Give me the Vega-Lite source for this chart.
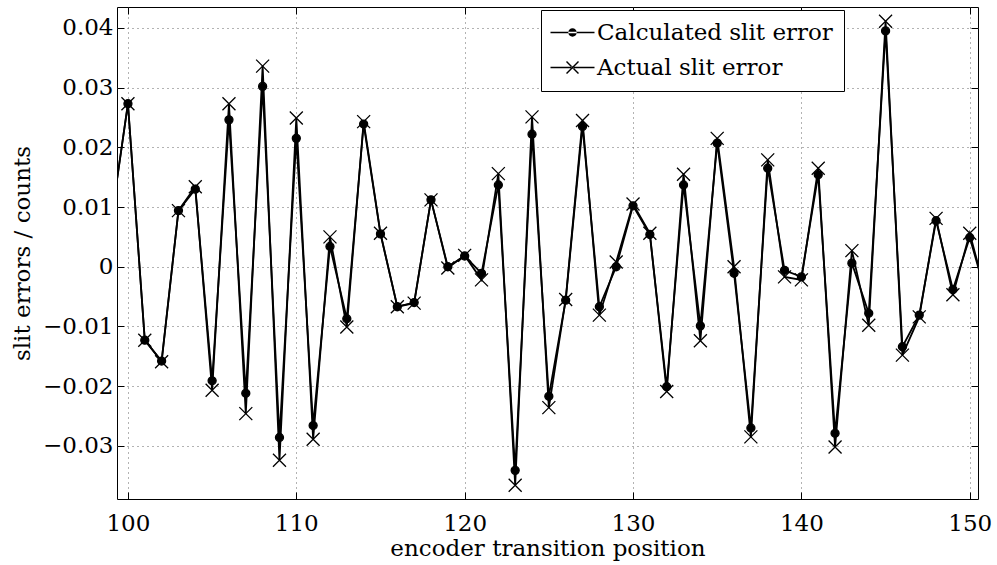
{
  "$schema": "https://vega.github.io/schema/vega-lite/v6.json",
  "width": 861,
  "height": 492,
  "autosize": {"type": "none"},
  "padding": {"left": 117, "top": 7, "right": 19, "bottom": 66},
  "background": "white",
  "config": {
    "view": {"stroke": "black", "strokeWidth": 1},
    "font": "DejaVu Serif"
  },
  "data": {
    "values": [
      {"x": 99, "series": "Calculated slit error", "v": 0.0077}, {"x": 99, "series": "Actual slit error", "v": 0.0077},
      {"x": 100, "series": "Calculated slit error", "v": 0.0273}, {"x": 100, "series": "Actual slit error", "v": 0.0273},
      {"x": 101, "series": "Calculated slit error", "v": -0.0123}, {"x": 101, "series": "Actual slit error", "v": -0.0123},
      {"x": 102, "series": "Calculated slit error", "v": -0.0158}, {"x": 102, "series": "Actual slit error", "v": -0.0159},
      {"x": 103, "series": "Calculated slit error", "v": 0.0094}, {"x": 103, "series": "Actual slit error", "v": 0.0094},
      {"x": 104, "series": "Calculated slit error", "v": 0.0130}, {"x": 104, "series": "Actual slit error", "v": 0.0134},
      {"x": 105, "series": "Calculated slit error", "v": -0.0191}, {"x": 105, "series": "Actual slit error", "v": -0.0207},
      {"x": 106, "series": "Calculated slit error", "v": 0.0246}, {"x": 106, "series": "Actual slit error", "v": 0.0273},
      {"x": 107, "series": "Calculated slit error", "v": -0.0212}, {"x": 107, "series": "Actual slit error", "v": -0.0246},
      {"x": 108, "series": "Calculated slit error", "v": 0.0302}, {"x": 108, "series": "Actual slit error", "v": 0.0336},
      {"x": 109, "series": "Calculated slit error", "v": -0.0286}, {"x": 109, "series": "Actual slit error", "v": -0.0324},
      {"x": 110, "series": "Calculated slit error", "v": 0.0215}, {"x": 110, "series": "Actual slit error", "v": 0.0249},
      {"x": 111, "series": "Calculated slit error", "v": -0.0266}, {"x": 111, "series": "Actual slit error", "v": -0.0289},
      {"x": 112, "series": "Calculated slit error", "v": 0.0034}, {"x": 112, "series": "Actual slit error", "v": 0.0050},
      {"x": 113, "series": "Calculated slit error", "v": -0.0087}, {"x": 113, "series": "Actual slit error", "v": -0.0101},
      {"x": 114, "series": "Calculated slit error", "v": 0.0239}, {"x": 114, "series": "Actual slit error", "v": 0.0243},
      {"x": 115, "series": "Calculated slit error", "v": 0.0055}, {"x": 115, "series": "Actual slit error", "v": 0.0056},
      {"x": 116, "series": "Calculated slit error", "v": -0.0067}, {"x": 116, "series": "Actual slit error", "v": -0.0067},
      {"x": 117, "series": "Calculated slit error", "v": -0.0060}, {"x": 117, "series": "Actual slit error", "v": -0.0061},
      {"x": 118, "series": "Calculated slit error", "v": 0.0112}, {"x": 118, "series": "Actual slit error", "v": 0.0112},
      {"x": 119, "series": "Calculated slit error", "v": 0.0000}, {"x": 119, "series": "Actual slit error", "v": -0.0002},
      {"x": 120, "series": "Calculated slit error", "v": 0.0018}, {"x": 120, "series": "Actual slit error", "v": 0.0019},
      {"x": 121, "series": "Calculated slit error", "v": -0.0011}, {"x": 121, "series": "Actual slit error", "v": -0.0022},
      {"x": 122, "series": "Calculated slit error", "v": 0.0137}, {"x": 122, "series": "Actual slit error", "v": 0.0156},
      {"x": 123, "series": "Calculated slit error", "v": -0.0341}, {"x": 123, "series": "Actual slit error", "v": -0.0366},
      {"x": 124, "series": "Calculated slit error", "v": 0.0222}, {"x": 124, "series": "Actual slit error", "v": 0.0251},
      {"x": 125, "series": "Calculated slit error", "v": -0.0217}, {"x": 125, "series": "Actual slit error", "v": -0.0236},
      {"x": 126, "series": "Calculated slit error", "v": -0.0056}, {"x": 126, "series": "Actual slit error", "v": -0.0055},
      {"x": 127, "series": "Calculated slit error", "v": 0.0235}, {"x": 127, "series": "Actual slit error", "v": 0.0245},
      {"x": 128, "series": "Calculated slit error", "v": -0.0067}, {"x": 128, "series": "Actual slit error", "v": -0.0081},
      {"x": 129, "series": "Calculated slit error", "v": 0.0000}, {"x": 129, "series": "Actual slit error", "v": 0.0008},
      {"x": 130, "series": "Calculated slit error", "v": 0.0102}, {"x": 130, "series": "Actual slit error", "v": 0.0105},
      {"x": 131, "series": "Calculated slit error", "v": 0.0054}, {"x": 131, "series": "Actual slit error", "v": 0.0056},
      {"x": 132, "series": "Calculated slit error", "v": -0.0201}, {"x": 132, "series": "Actual slit error", "v": -0.0209},
      {"x": 133, "series": "Calculated slit error", "v": 0.0137}, {"x": 133, "series": "Actual slit error", "v": 0.0155},
      {"x": 134, "series": "Calculated slit error", "v": -0.0099}, {"x": 134, "series": "Actual slit error", "v": -0.0124},
      {"x": 135, "series": "Calculated slit error", "v": 0.0207}, {"x": 135, "series": "Actual slit error", "v": 0.0215},
      {"x": 136, "series": "Calculated slit error", "v": -0.0011}, {"x": 136, "series": "Actual slit error", "v": 0.0000},
      {"x": 137, "series": "Calculated slit error", "v": -0.0270}, {"x": 137, "series": "Actual slit error", "v": -0.0285},
      {"x": 138, "series": "Calculated slit error", "v": 0.0165}, {"x": 138, "series": "Actual slit error", "v": 0.0179},
      {"x": 139, "series": "Calculated slit error", "v": -0.0006}, {"x": 139, "series": "Actual slit error", "v": -0.0017},
      {"x": 140, "series": "Calculated slit error", "v": -0.0017}, {"x": 140, "series": "Actual slit error", "v": -0.0022},
      {"x": 141, "series": "Calculated slit error", "v": 0.0154}, {"x": 141, "series": "Actual slit error", "v": 0.0165},
      {"x": 142, "series": "Calculated slit error", "v": -0.0279}, {"x": 142, "series": "Actual slit error", "v": -0.0302},
      {"x": 143, "series": "Calculated slit error", "v": 0.0006}, {"x": 143, "series": "Actual slit error", "v": 0.0027},
      {"x": 144, "series": "Calculated slit error", "v": -0.0078}, {"x": 144, "series": "Actual slit error", "v": -0.0098},
      {"x": 145, "series": "Calculated slit error", "v": 0.0395}, {"x": 145, "series": "Actual slit error", "v": 0.0411},
      {"x": 146, "series": "Calculated slit error", "v": -0.0134}, {"x": 146, "series": "Actual slit error", "v": -0.0148},
      {"x": 147, "series": "Calculated slit error", "v": -0.0081}, {"x": 147, "series": "Actual slit error", "v": -0.0084},
      {"x": 148, "series": "Calculated slit error", "v": 0.0077}, {"x": 148, "series": "Actual slit error", "v": 0.0081},
      {"x": 149, "series": "Calculated slit error", "v": -0.0038}, {"x": 149, "series": "Actual slit error", "v": -0.0047},
      {"x": 150, "series": "Calculated slit error", "v": 0.0049}, {"x": 150, "series": "Actual slit error", "v": 0.0056},
      {"x": 151, "series": "Calculated slit error", "v": -0.0050}, {"x": 151, "series": "Actual slit error", "v": -0.0050}
    ]
  },
  "layer": [
    {
      "mark": {"type": "line", "color": "black", "strokeWidth": 1.8, "clip": true},
      "encoding": {
        "x": {
          "field": "x", "type": "quantitative",
          "scale": {"domain": [99.35, 150.49], "nice": false, "zero": false},
          "axis": {
            "orient": "bottom",
            "values": [100, 110, 120, 130, 140, 150],
            "grid": true, "gridDash": [1, 4], "gridColor": "#666", "gridWidth": 1,
            "domain": false,
            "tickSize": -7, "tickColor": "black", "tickWidth": 1,
            "labelFont": "DejaVu Serif", "labelFontSize": 23, "labelColor": "black", "labelPadding": 20,
            "title": "encoder transition position",
            "titleFont": "DejaVu Serif", "titleFontSize": 23, "titleFontWeight": "normal", "titleColor": "black", "titlePadding": 2
          }
        },
        "y": {
          "field": "v", "type": "quantitative",
          "scale": {"domain": [-0.0389, 0.0435], "nice": false, "zero": false},
          "axis": {
            "orient": "left",
            "values": [-0.03, -0.02, -0.01, 0, 0.01, 0.02, 0.03, 0.04],
            "labelExpr": "datum.value == 0 ? '0' : format(datum.value, '.2f')",
            "grid": true, "gridDash": [1, 4], "gridColor": "#666", "gridWidth": 1,
            "domain": false,
            "tickSize": -7, "tickColor": "black", "tickWidth": 1,
            "labelFont": "DejaVu Serif", "labelFontSize": 23, "labelColor": "black", "labelPadding": 11,
            "title": "slit errors / counts",
            "titleFont": "DejaVu Serif", "titleFontSize": 23, "titleFontWeight": "normal", "titleColor": "black", "titlePadding": 8
          }
        },
        "detail": {"field": "series", "type": "nominal"}
      }
    },
    {
      "mark": {"type": "point", "filled": true, "fill": "black", "stroke": "black", "strokeWidth": 1.3, "size": 100, "opacity": 1, "clip": true},
      "encoding": {
        "x": {
          "field": "x", "type": "quantitative",
          "axis": {
            "orient": "top", "values": [100, 110, 120, 130, 140, 150],
            "labels": false, "grid": false, "domain": false, "title": null,
            "tickSize": -7, "tickColor": "black", "tickWidth": 1
          }
        },
        "y": {
          "field": "v", "type": "quantitative",
          "axis": {
            "orient": "right", "values": [-0.03, -0.02, -0.01, 0, 0.01, 0.02, 0.03, 0.04],
            "labels": false, "grid": false, "domain": false, "title": null,
            "tickSize": -7, "tickColor": "black", "tickWidth": 1
          }
        },
        "shape": {
          "field": "series", "type": "nominal",
          "scale": {
            "domain": ["Calculated slit error", "Actual slit error"],
            "range": [
              "M-0.8,0A0.8,0.8 0 1,0 0.8,0A0.8,0.8 0 1,0 -0.8,0Z",
              "M-1.3,-1.3L1.3,1.3M-1.3,1.3L1.3,-1.3"
            ]
          },
          "legend": null
        }
      }
    },
    {
      "mark": {"type": "point", "filled": true, "fill": "black", "size": 400, "opacity": 0, "clip": true},
      "encoding": {
        "x": {"field": "x", "type": "quantitative", "axis": null},
        "y": {"field": "v", "type": "quantitative", "axis": null},
        "shape": {
          "field": "series", "type": "nominal",
          "scale": {
            "domain": ["Calculated slit error", "Actual slit error"],
            "range": [
              "M-2.2,-0.08H2.2V0.08H-2.2ZM-0.42,0A0.42,0.42 0 1,0 0.42,0A0.42,0.42 0 1,0 -0.42,0Z",
              "M-2.2,-0.07H2.2V0.07H-2.2ZM-0.65,-0.55L0.55,0.65L0.65,0.55L-0.55,-0.65ZM-0.65,0.55L0.55,-0.65L0.65,-0.55L-0.55,0.65Z"
            ]
          },
          "legend": {
            "orient": "none", "legendX": 424, "legendY": 3,
            "title": null,
            "strokeColor": "black", "fillColor": "white", "padding": 11,
            "labelFont": "DejaVu Serif", "labelFontSize": 23, "labelColor": "black", "labelLimit": 500,
            "symbolSize": 400, "symbolOffset": 9, "labelOffset": 13, "rowPadding": 11,
            "symbolFillColor": "black", "symbolStrokeColor": "black", "symbolStrokeWidth": 0,
            "symbolOpacity": 1
          }
        }
      }
    }
  ],
  "resolve": {"axis": {"x": "independent", "y": "independent"}, "scale": {"shape": "independent"}}
}
